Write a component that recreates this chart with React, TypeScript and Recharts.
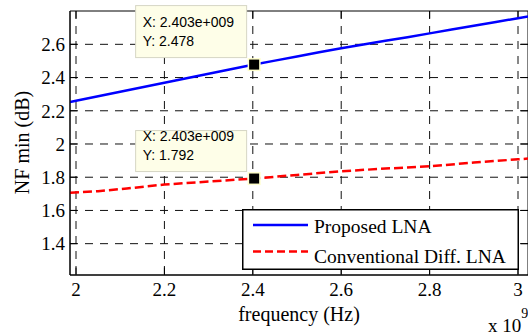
import {
  LineChart,
  Line,
  XAxis,
  YAxis,
  CartesianGrid,
  Legend,
  ReferenceDot,
  ReferenceLine,
  ReferenceArea,
  Label,
} from 'recharts';

// frequency in units of 1e9 Hz
const freqProposed = [
  1.9864, 2.0, 2.05, 2.1, 2.15, 2.2, 2.25, 2.3, 2.35, 2.403, 2.45, 2.5, 2.55, 2.6, 2.65, 2.7, 2.75,
  2.8, 2.85, 2.9, 2.95, 3.0, 3.0226,
];
const nfProposed = [
  2.253, 2.26, 2.288, 2.315, 2.342, 2.369, 2.396, 2.423, 2.45, 2.478, 2.502, 2.527, 2.552, 2.576,
  2.599, 2.621, 2.643, 2.666, 2.689, 2.712, 2.735, 2.757, 2.767,
];
const freqConventional = [1.9864, 2.05, 2.115, 2.2, 2.3, 2.403, 2.5, 2.6, 2.7, 2.8, 2.9, 3.0, 3.0226];
const nfConventional = [
  1.706, 1.716, 1.732, 1.756, 1.774, 1.792, 1.814, 1.836, 1.852, 1.866, 1.888, 1.908, 1.912,
];

const xTicks = [2, 2.2, 2.4, 2.6, 2.8, 3];
const yTicks = [1.4, 1.6, 1.8, 2, 2.2, 2.4, 2.6];
const xDomain: [number, number] = [1.9864, 3.0226];
const yDomain: [number, number] = [1.2114, 2.8006];

const dataTips = [
  { x: 2.403, y: 2.478, label: 'X: 2.403e+009', value: 'Y: 2.478', boxTop: -59, boxHeight: 52 },
  { x: 2.403, y: 1.792, label: 'X: 2.403e+009', value: 'Y: 1.792', boxTop: -48, boxHeight: 41 },
];

const proposedData = freqProposed.map((x, i) => ({ x, y: nfProposed[i] }));
const conventionalData = freqConventional.map((x, i) => ({ x, y: nfConventional[i] }));

const serif = '"Liberation Serif", "Times New Roman", serif';
const sans = '"Liberation Sans", Arial, sans-serif';
const tickLenX = 0.016;
const tickLenY = 0.045;

function DataTip(props: any) {
  const { cx, cy, tip } = props;
  const left = cx - 118.5;
  const top = cy + tip.boxTop;
  return (
    <g>
      <rect x={left} y={top} width={111} height={tip.boxHeight} fill="#fefee8" stroke="#d6d6c4" />
      <text x={left + 7} y={top + tip.boxHeight - 31} fontFamily={sans} fontSize={14} fill="#000">
        {tip.label}
      </text>
      <text x={left + 7} y={top + tip.boxHeight - 12} fontFamily={sans} fontSize={14} fill="#000">
        {tip.value}
      </text>
      <rect x={cx - 6.5} y={cy - 6.5} width={13} height={13} fill="#ffffcc" />
      <rect x={cx - 5} y={cy - 5} width={10} height={10} fill="#000" />
    </g>
  );
}

function LegendBox() {
  return (
    <svg width={277} height={61} style={{ display: 'block' }}>
      <rect x={0.75} y={0.75} width={275.5} height={59.5} fill="#fff" stroke="#000" strokeWidth={1.5} />
      <line x1={11} x2={66} y1={16} y2={16} stroke="#0000ff" strokeWidth={2.5} />
      <text x={72} y={24} fontFamily={serif} fontSize={19.5} fill="#000">
        Proposed LNA
      </text>
      <line x1={11} x2={66} y1={42.5} y2={42.5} stroke="#ff0000" strokeWidth={2.5} strokeDasharray="8 4" />
      <text x={72} y={54} fontFamily={serif} fontSize={19.5} fill="#000">
        Conventional Diff. LNA
      </text>
    </svg>
  );
}

export default function App() {
  return (
    <div style={{ position: 'absolute', left: 0, top: 0, width: 528, height: 335, overflow: 'hidden', background: '#fff' }}>
      <LineChart width={530} height={335} margin={{ top: 11, right: 2, bottom: 0, left: 0 }}>
        <CartesianGrid
          stroke="#111"
          strokeDasharray="8 7"
          horizontalValues={yTicks}
          verticalValues={xTicks}
        />
        <XAxis
          dataKey="x"
          type="number"
          domain={xDomain}
          ticks={xTicks}
          allowDataOverflow
          height={60}
          tickLine={false}
          tickSize={0}
          tickMargin={8}
          axisLine={{ stroke: '#000' }}
          tick={{ fontFamily: serif, fontSize: 19, fill: '#000' }}
        >
          <Label
            content={() => (
              <g>
                <text x={299} y={321} textAnchor="middle" fontFamily={serif} fontSize={20} fill="#000">
                  frequency (Hz)
                </text>
                <text x={488} y={332} fontFamily={serif} fontSize={19} fill="#000">
                  x 10
                  <tspan dy={-14} fontSize={14}>
                    9
                  </tspan>
                </text>
              </g>
            )}
          />
        </XAxis>
        <YAxis
          type="number"
          domain={yDomain}
          ticks={yTicks}
          allowDataOverflow
          width={70}
          tickLine={false}
          tickSize={0}
          tickMargin={5}
          axisLine={{ stroke: '#000' }}
          tick={{ fontFamily: serif, fontSize: 19, fill: '#000' }}
        >
          <Label
            content={() => (
              <text
                x={22}
                y={142.5}
                transform="rotate(-90 22 142.5)"
                textAnchor="middle"
                dominantBaseline="central"
                fontFamily={serif}
                fontSize={20}
                fill="#000"
              >
                NF min (dB)
              </text>
            )}
          />
        </YAxis>
        <ReferenceArea
          x1={xDomain[0]}
          x2={xDomain[1]}
          y1={yDomain[0]}
          y2={yDomain[1]}
          fill="none"
          stroke="#000"
          fillOpacity={0}
        />
        {xTicks.map((t) => (
          <ReferenceLine
            key={`xb${t}`}
            segment={[{ x: t, y: yDomain[0] }, { x: t, y: yDomain[0] + tickLenY }]}
            stroke="#000"
          />
        ))}
        {xTicks.map((t) => (
          <ReferenceLine
            key={`xt${t}`}
            segment={[{ x: t, y: yDomain[1] }, { x: t, y: yDomain[1] - tickLenY }]}
            stroke="#000"
          />
        ))}
        {yTicks.map((t) => (
          <ReferenceLine
            key={`yl${t}`}
            segment={[{ x: xDomain[0], y: t }, { x: xDomain[0] + tickLenX, y: t }]}
            stroke="#000"
          />
        ))}
        {yTicks.map((t) => (
          <ReferenceLine
            key={`yr${t}`}
            segment={[{ x: xDomain[1], y: t }, { x: xDomain[1] - tickLenX, y: t }]}
            stroke="#000"
          />
        ))}
        <Line
          data={proposedData}
          dataKey="y"
          name="Proposed LNA"
          stroke="#0000ff"
          strokeWidth={2.5}
          dot={false}
          type="linear"
          isAnimationActive={false}
        />
        <Line
          data={conventionalData}
          dataKey="y"
          name="Conventional Diff. LNA"
          stroke="#ff0000"
          strokeWidth={2.5}
          strokeDasharray="9 4"
          dot={false}
          type="linear"
          isAnimationActive={false}
        />
        {dataTips.map((tip) => (
          <ReferenceDot
            key={tip.value}
            x={tip.x}
            y={tip.y}
            r={5}
            shape={(p: any) => <DataTip {...p} tip={tip} />}
          />
        ))}
        <Legend
          layout="vertical"
          verticalAlign="middle"
          align="center"
          content={() => <LegendBox />}
          wrapperStyle={{ position: 'absolute', left: 242, top: 209, width: 277, height: 61 }}
        />
      </LineChart>
    </div>
  );
}
